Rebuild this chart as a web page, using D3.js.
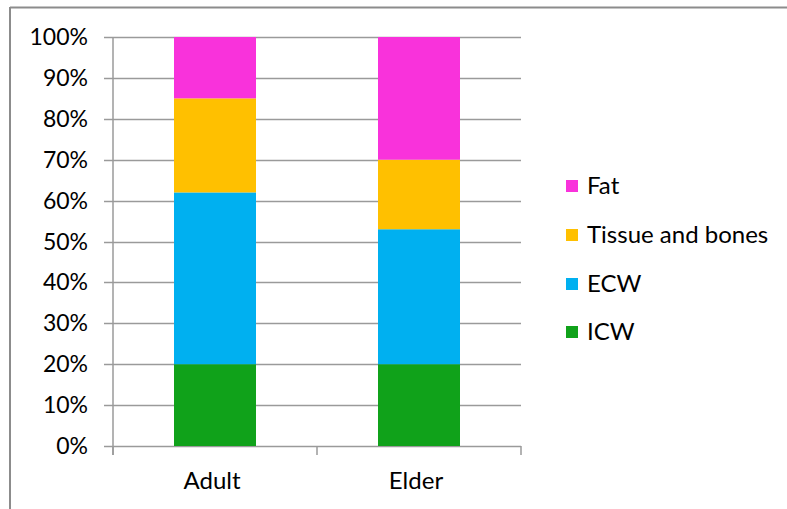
<!DOCTYPE html>
<html><head><meta charset="utf-8">
<script src="https://cdn.jsdelivr.net/npm/d3@7"></script>
<style>html,body{margin:0;padding:0;background:#fff;}svg{display:block;}</style>
</head><body>
<svg id="c" width="787" height="509"></svg>
<script>
const categories = ["Adult", "Elder"];
const seriesNames = ["ICW", "ECW", "Tissue and bones", "Fat"];
const icw = [20, 20];
const ecw = [42, 33];
const tissue = [23, 17];
const fat = [15, 30];
const seriesColors = ["#10A21A", "#00B0F0", "#FFC000", "#F932DB"];
const yTicks = [0, 10, 20, 30, 40, 50, 60, 70, 80, 90, 100];

const font = "Lato, 'Open Sans', sans-serif";
const fsTick = 23, fsText = 24;
const svg = d3.select("#c");
const W = 787, H = 509;

// outer frame (top and left visible)
svg.append("line").attr("x1", 10).attr("x2", W).attr("y1", 7.5).attr("y2", 7.5)
  .attr("stroke", "#8c8c8c").attr("stroke-width", 2);
svg.append("line").attr("x1", 10).attr("x2", 10).attr("y1", 7).attr("y2", H)
  .attr("stroke", "#8c8c8c").attr("stroke-width", 2);

const pLeft = 113, pRight = 521, pTop = 37, pBottom = 446;
const y = d3.scaleLinear().domain([0, 100]).range([pBottom, pTop]);
const step = (pRight - pLeft) / categories.length;

// gridlines
svg.append("g").selectAll("line").data(yTicks).join("line")
  .attr("x1", pLeft - 9).attr("x2", pRight)
  .attr("y1", d => Math.round(y(d)) + 0.5).attr("y2", d => Math.round(y(d)) + 0.5)
  .attr("stroke", "#9a9a9a").attr("stroke-width", 1.5);

// y axis line
svg.append("line").attr("x1", pLeft).attr("x2", pLeft).attr("y1", pTop).attr("y2", pBottom + 9)
  .attr("stroke", "#9a9a9a").attr("stroke-width", 1.5);

// category tick marks at band boundaries
svg.append("g").selectAll("line").data(d3.range(categories.length + 1)).join("line")
  .attr("x1", i => pLeft + i * step).attr("x2", i => pLeft + i * step)
  .attr("y1", pBottom).attr("y2", pBottom + 9)
  .attr("stroke", "#9a9a9a").attr("stroke-width", 1.5);

// y tick labels
svg.append("g").selectAll("text").data(yTicks).join("text")
  .attr("x", 88).attr("y", d => y(d)).attr("dy", "0.35em")
  .attr("text-anchor", "end").attr("font-family", font).attr("font-size", fsTick).attr("fill", "#000")
  .text(d => d + "%");

// stacked data
const table = categories.map((c, i) => ({cat: c, ICW: icw[i], ECW: ecw[i], "Tissue and bones": tissue[i], Fat: fat[i]}));
const stacked = d3.stack().keys(seriesNames)(table);
const bw = 82;
svg.append("g").selectAll("g").data(stacked).join("g")
  .attr("fill", (d, i) => seriesColors[i])
  .selectAll("rect").data(d => d).join("rect")
  .attr("x", d => pLeft + categories.indexOf(d.data.cat) * step + step / 2 - bw / 2)
  .attr("width", bw)
  .attr("y", d => y(d[1]))
  .attr("height", d => y(d[0]) - y(d[1]));

// category labels
svg.append("g").selectAll("text").data(categories).join("text")
  .attr("x", (d, i) => pLeft + i * step + step / 2 - 3).attr("y", 489)
  .attr("text-anchor", "middle").attr("font-family", font).attr("font-size", fsText).attr("fill", "#000")
  .text(d => d);

// legend (reverse order)
const legendItems = seriesNames.slice().reverse();
const legendY = [186, 235, 284, 332];
const lg = svg.append("g").selectAll("g").data(legendItems).join("g")
  .attr("transform", (d, i) => `translate(566,${legendY[i]})`);
lg.append("rect").attr("x", 0).attr("y", -6).attr("width", 12).attr("height", 12)
  .attr("fill", d => seriesColors[seriesNames.indexOf(d)]);
lg.append("text").attr("x", 21).attr("y", 0).attr("dy", "0.35em")
  .attr("font-family", font).attr("font-size", fsText).attr("fill", "#000").text(d => d);
</script>
</body></html>
